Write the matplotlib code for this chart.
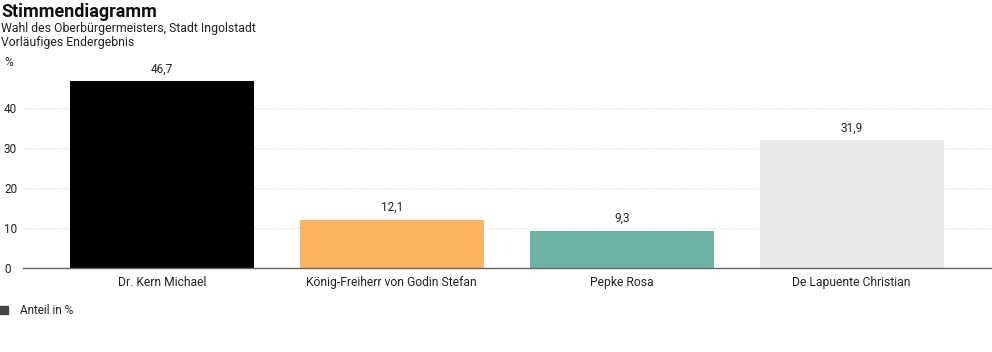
import matplotlib
matplotlib.use("Agg")
import matplotlib.pyplot as plt
from matplotlib.patches import Rectangle

categories = ["Dr. Kern Michael", "König-Freiherr von Godin Stefan", "Pepke Rosa", "De Lapuente Christian"]
values = [46.7, 12.1, 9.3, 31.9]
colors = ["#000000", "#fdb462", "#6db3a5", "#e9e9e9"]
yticks = [0, 10, 20, 30, 40]

plt.rcParams['font.family'] = ['Roboto', 'DejaVu Sans']
W, H = 992, 352
fig = plt.figure(figsize=(W/100, H/100), dpi=100)

# axes: x 23..992, y 68..268 (pixels from top)
ax = fig.add_axes([23/W, 1-268/H, (992-23)/W, 200/H])
x = list(range(len(categories)))
ax.bar(x, values, width=0.8, color=colors, zorder=2)
ax.set_xlim(-0.604, 3.61)
ax.set_ylim(0, 50)
for s in ["top", "right", "left"]:
    ax.spines[s].set_visible(False)
ax.spines["bottom"].set_color("#666666")
ax.spines["bottom"].set_linewidth(1)
ax.set_yticks(yticks)
ax.set_yticklabels([str(t) for t in yticks])
ax.tick_params(axis="y", length=0, labelsize=8.5, colors="#222222", pad=0)
for lab in ax.get_yticklabels():
    lab.set_horizontalalignment("left")
    lab.set_transform(ax.get_yaxis_transform())
    lab.set_position((-19/969, 0))
ax.set_xticks(x)
ax.set_xticklabels(categories)
ax.tick_params(axis="x", length=0, labelsize=8.7, colors="#222222", pad=6)
for t in yticks[1:]:
    ax.axhline(t, color="#d8d8d8", linestyle=(0, (1.5, 2)), linewidth=0.7, zorder=1)
for xi, v in zip(x, values):
    ax.annotate(f"{v:.1f}".replace(".", ","), (xi, v), xytext=(0, 4), textcoords="offset points",
                ha="center", va="bottom", fontsize=8.5, color="#222222")

fig.text(1/W, 1-3/H, "Stimmendiagramm", fontsize=13, fontweight="bold", color="#111111", va="top", ha="left")
fig.text(1/W, 1-22/H, "Wahl des Oberbürgermeisters, Stadt Ingolstadt", fontsize=8.8, color="#222222", va="top", ha="left")
fig.text(1/W, 1-36/H, "Vorläufiges Endergebnis", fontsize=8.8, color="#222222", va="top", ha="left")
fig.text(4/W, 1-56/H, "%", fontsize=8.5, color="#222222", va="top", ha="left")

fig.patches.append(Rectangle((0, 1-314/H), 8/W, 8/H, transform=fig.transFigure, color="#444444"))
fig.text(20/W, 1-310/H, "Anteil in %", fontsize=8.5, color="#222222", va="center", ha="left")

fig.savefig("out.png", dpi=100)
